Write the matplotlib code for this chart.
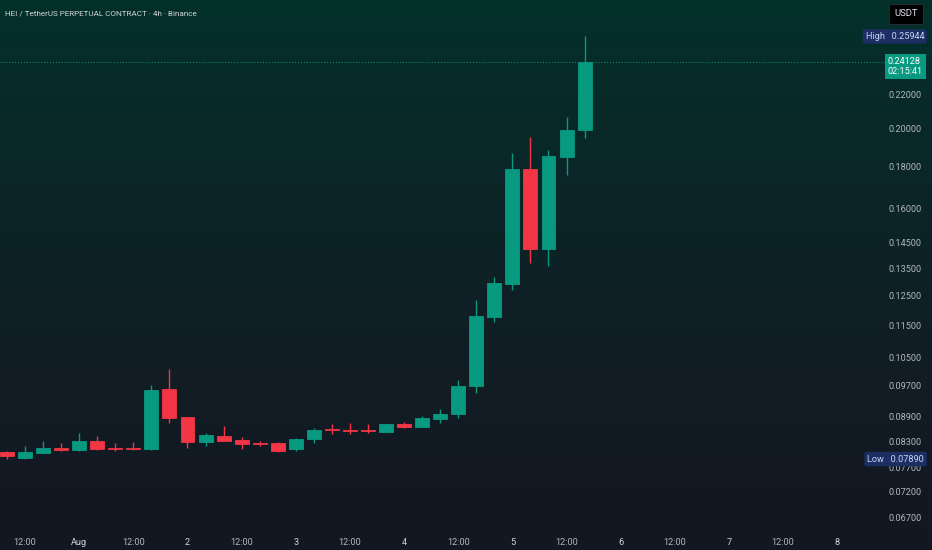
"""HEI/USDT perpetual, 4h candles on Binance, drawn like a TradingView dark chart."""

import matplotlib
matplotlib.use("Agg")
import matplotlib.pyplot as plt
import matplotlib.transforms as mtransforms
import numpy as np
from matplotlib.colors import LinearSegmentedColormap

# candle open time, hours after 31 Jul 00:00
hours = [8, 12, 16, 20, 24, 28, 32, 36, 40, 44, 48, 52, 56, 60, 64, 68, 72,
         76, 80, 84, 88, 92, 96, 100, 104, 108, 112, 116, 120, 124, 128, 132, 136]
opens = [0.0804, 0.0792, 0.0803, 0.0813, 0.0809, 0.0831, 0.0813, 0.0814, 0.0811,
         0.0960, 0.0887, 0.0827, 0.0843, 0.0833, 0.0826, 0.0825, 0.0811, 0.0835,
         0.0859, 0.0857, 0.0856, 0.0852, 0.0871, 0.0864, 0.0883, 0.0895, 0.0968,
         0.1176, 0.1291, 0.1786, 0.1424, 0.1846, 0.1991]
highs = [0.0808, 0.0818, 0.0831, 0.0825, 0.0849, 0.0842, 0.0826, 0.0828, 0.0971,
         0.1018, 0.0888, 0.0850, 0.0866, 0.0840, 0.0831, 0.0827, 0.0838, 0.0861,
         0.0871, 0.0874, 0.0871, 0.0871, 0.0876, 0.0891, 0.0908, 0.0986, 0.1235,
         0.1319, 0.1867, 0.1956, 0.1884, 0.2070, 0.25944]
lows = [0.0790, 0.0789, 0.0802, 0.0808, 0.0808, 0.0810, 0.0808, 0.0809, 0.0809,
        0.0874, 0.0814, 0.0818, 0.0830, 0.0811, 0.0819, 0.0805, 0.0808, 0.0826,
        0.0846, 0.0846, 0.0850, 0.0851, 0.0860, 0.0863, 0.0874, 0.0886, 0.0950,
        0.1162, 0.1270, 0.1372, 0.1359, 0.1756, 0.1947]
closes = [0.0795, 0.0805, 0.0813, 0.0810, 0.0831, 0.0811, 0.0811, 0.0811, 0.0958,
          0.0885, 0.0827, 0.0844, 0.0831, 0.0823, 0.0824, 0.0808, 0.0835, 0.0856,
          0.0856, 0.0855, 0.0854, 0.0870, 0.0864, 0.0885, 0.0896, 0.0970, 0.1181,
          0.1295, 0.1786, 0.1424, 0.1853, 0.1993, 0.24128]

price_ticks = [0.22, 0.20, 0.18, 0.16, 0.145, 0.135, 0.125, 0.115, 0.105,
               0.097, 0.089, 0.083, 0.077, 0.072, 0.067]
time_ticks = [12, 24, 36, 48, 60, 72, 84, 96, 108, 120, 132, 144, 156, 168, 180, 192]
time_labels = ["12:00", "Aug", "12:00", "2", "12:00", "3", "12:00", "4",
               "12:00", "5", "12:00", "6", "12:00", "7", "12:00", "8"]

title = "HEI / TetherUS PERPETUAL CONTRACT · 4h · Binance"
high_val, low_val, last_val = 0.25944, 0.07890, 0.24128
countdown = "02:15:41"

UP, DOWN = "#089981", "#f23645"
TXT = "#b2b5be"
plt.rcParams["font.family"] = ["Roboto", "DejaVu Sans"]

W, H = 932, 550
fig = plt.figure(figsize=(W / 100, H / 100), dpi=100)

# background gradient, teal at the top fading to navy
bg = fig.add_axes([0, 0, 1, 1], zorder=-10)
cmap = LinearSegmentedColormap.from_list(
    "bg", ["#03302a", "#0b2628", "#111d24", "#131722"])
bg.imshow(np.linspace(0, 1, 256).reshape(-1, 1), aspect="auto", cmap=cmap,
          extent=[0, 1, 0, 1])
bg.axis("off")

plot_w, plot_h = 850, 528
ax = fig.add_axes([0, 1 - plot_h / H, plot_w / W, plot_h / H])
ax.patch.set_alpha(0)
for s in ax.spines.values():
    s.set_visible(False)

o, hi, lo, c = map(np.array, (opens, highs, lows, closes))
t = np.array(hours)
cols = np.where(c >= o, UP, DOWN)
ax.vlines(t, lo, hi, colors=cols, lw=1, zorder=3)
bot = np.minimum(o, c)
top = np.maximum(o, c)
ax.bar(t, top - bot, bottom=bot, width=3.1, color=cols, zorder=4,
       linewidth=0.6, edgecolor=cols)

ax.set_yscale("log")
ax.set_ylim(0.06497, 0.2875)
ax.set_xlim(6.45, 6.45 + plot_w / 4.5125)

ax.yaxis.tick_right()
ax.set_yticks(price_ticks)
ax.set_yticklabels([f"{p:.5f}" for p in price_ticks])
ax.yaxis.set_minor_locator(matplotlib.ticker.NullLocator())
ax.tick_params(axis="y", length=0, pad=28, labelsize=6.6, labelcolor=TXT)
ax.set_xticks(time_ticks)
ax.set_xticklabels(time_labels)
ax.tick_params(axis="x", length=0, pad=7, labelsize=6.6, labelcolor=TXT)
for lab, txt in zip(ax.get_xticklabels(), time_labels):
    if ":" not in txt:
        lab.set_color("#d1d4dc")

ax.text(5 / plot_w, 1 - 13 / plot_h, title, transform=ax.transAxes,
        fontsize=5.9, color="#d1d4dc", va="center", ha="left")

yx = ax.get_yaxis_transform()
# last price dotted line
ax.axhline(last_val, xmin=0, xmax=885 / plot_w, color=UP, lw=0.7,
           ls=(0, (1, 2)), clip_on=False, zorder=2)

# currency box
fig.text(906 / W, 1 - 14 / H, "USDT", ha="center", va="center", fontsize=6.8,
         color="#e0e3eb",
         bbox=dict(boxstyle="square,pad=0.6", fc="#000000", ec="#2a2e39", lw=0.6))

# high / low markers
for lab, val in (("High", high_val), ("Low", low_val)):
    ax.text(924 / plot_w, val, f"{lab}   {val:.5f}", transform=yx, ha="right",
            va="center", fontsize=6.6, color="#c9d5f5", zorder=10, clip_on=False,
            bbox=dict(boxstyle="round,pad=0.3,rounding_size=0.25", fc="#1d2e63",
                      ec="none"))

# last price tag with countdown, first line centred on the price
tag_tr = mtransforms.offset_copy(yx, fig=fig, y=5, units="dots")
ax.text(888 / plot_w, last_val, f"{last_val:.5f}\n{countdown}", transform=tag_tr,
        ha="left", va="top", fontsize=6.6, color="#ffffff", linespacing=1.1,
        zorder=10, clip_on=False,
        bbox=dict(boxstyle="square,pad=0.35", fc=UP, ec="none"))

fig.savefig("out.png", dpi=100)
